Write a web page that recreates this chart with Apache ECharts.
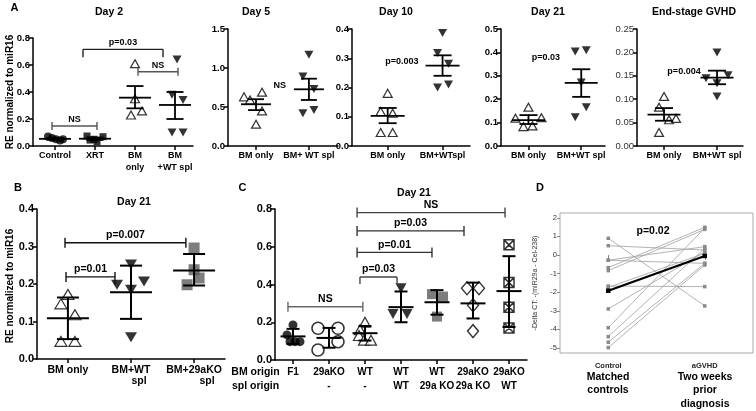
<!DOCTYPE html>
<html><head><meta charset="utf-8">
<script src="https://cdn.jsdelivr.net/npm/echarts@6/dist/echarts.min.js"></script>
<style>html,body{margin:0;padding:0;background:#fff}#c{width:756px;height:411px}</style>
</head><body><div id="c"></div>
<script>
// ================= DATA =================
// Panel A - Day 2
const catsDay2 = ['Control', 'XRT', 'BM\nonly', 'BM\n+WT spl'];
const d2Control = [0.07, 0.06, 0.05, 0.04, 0.05];
const d2XRT = [0.074, 0.05, 0.069, 0.032, 0.044];
const d2BMonly = [0.61, 0.35, 0.23, 0.26];
const d2BMWT = [0.64, 0.38, 0.34, 0.10, 0.10];
const d2Mean = [0.053, 0.054, 0.358, 0.304];
const d2Low = [0.046, 0.045, 0.279, 0.20];
const d2High = [0.060, 0.063, 0.444, 0.40];
// Panel A - Day 5
const catsDay5 = ['BM only', 'BM+ WT spl'];
const d5BMonly = [0.63, 0.59, 0.69, 0.45, 0.28];
const d5BMWT = [1.17, 0.89, 0.73, 0.42, 0.46];
const d5Mean = [0.535, 0.727], d5Low = [0.46, 0.59], d5High = [0.60, 0.863];
// Panel A - Day 10
const catsDay10 = ['BM only', 'BM+WTspl'];
const d10BMonly = [0.18, 0.118, 0.112, 0.046, 0.046];
const d10BMWT = [0.386, 0.318, 0.281, 0.20, 0.21];
const d10Mean = [0.103, 0.275], d10Low = [0.078, 0.24], d10High = [0.13, 0.31];
// Panel A - Day 21
const catsDay21 = ['BM only', 'BM+WT spl'];
const d21BMonly = [0.166, 0.119, 0.083, 0.086, 0.121];
const d21BMWT = [0.404, 0.409, 0.271, 0.166, 0.123];
const d21Mean = [0.111, 0.27], d21Low = [0.094, 0.21], d21High = [0.132, 0.328];
// Panel A - End-stage GVHD
const catsEnd = ['BM only', 'BM+WT spl'];
const endBMonly = [0.106, 0.083, 0.056, 0.059, 0.029];
const endBMWT = [0.20, 0.145, 0.134, 0.151, 0.106];
const endMean = [0.067, 0.146], endLow = [0.054, 0.132], endHigh = [0.081, 0.161];
// Panel B - Day 21
const catsB = ['BM only', 'BM+WT', 'BM+29aKO'];
const catsBsub = 'spl';
const bBMonly = [0.172, 0.147, 0.118, 0.047, 0.047];
const bBMWT = [0.252, 0.198, 0.185, 0.207, 0.058];
const bBM29aKO = [0.296, 0.238, 0.198, 0.216];
const bMean = [0.109, 0.178, 0.236], bLow = [0.053, 0.107, 0.196], bHigh = [0.164, 0.249, 0.28];
// Panel C - Day 21
const catsCbm = ['F1', '29aKO', 'WT', 'WT', 'WT', '29aKO', '29aKO'];
const catsCspl = ['', '-', '-', 'WT', '29a KO', '29a KO', 'WT'];
const cF1 = [0.186, 0.133, 0.097, 0.097, 0.097];
const c29aKO = [0.168, 0.168, 0.097, 0.053];
const cWT = [0.20, 0.16, 0.13, 0.105, 0.105];
const cWTWT = [0.38, 0.244, 0.244];
const cWT29 = [0.349, 0.336, 0.23];
const c2929 = [0.38, 0.38, 0.29, 0.153];
const c29WT = [0.61, 0.41, 0.28, 0.17];
const cMean = [0.125, 0.117, 0.142, 0.28, 0.306, 0.30, 0.365];
const cLow = [0.085, 0.065, 0.103, 0.20, 0.24, 0.22, 0.175];
const cHigh = [0.165, 0.17, 0.18, 0.363, 0.37, 0.41, 0.55];
// Panel D - paired
const catsD = ['Control', 'aGVHD'];
const dControl = [0.90, 0.50, -0.28, -0.28, -0.68, -0.84, -1.67, -1.74, -2.90, -3.91, -4.39, -4.69, -4.98];
const dAGVHD = [-2.74, 0.27, 0.45, -0.45, 1.49, 1.38, -1.70, 0.09, 0.18, 1.45, 0.36, -0.45, -0.54];
const dMean = [-1.92, -0.05];
const dTicks = [-5, -4, -3, -2, -1, 0, 1, 2];

// ================= LAYOUT / STYLE =================
const FF = '"Liberation Sans", Arial, Helvetica, sans-serif';
const jitDay2 = [[-7, -3, 1, 5, 8], [-8, -1, 8, 2, -5], [0, 0, -4, 7], [2, -3, 8, -3, 8]];
const jitDay5 = [[-12, -6, 6, 6, 0], [0, -6, 5, -6, 5]];
const jitDay10 = [[0, -7, 5, -7, 5], [0, -5, 6, -5, 6]];
const jitDay21 = [[0, -13, -5, 4, 13], [-6, 5, 0, 5, -6]];
const jitEnd = [[0, -5, 5, 12, -5], [0, -11, 0, 11, 0]];
const jitB = [[0, -7, 7, -7, 7], [0, -14, 0, 13, 0], [0, 0, -7, 5]];
const jitC = [[0, -6, -3, 2, 7], [-11, 9, 9, -11], [0, -5, -6, -1, 6], [0, -8, 6], [-5, 6, 0], [-6, 6, 0, 0], [0, 0, 0, 0]];

const brDay2 = [
  {x1: -0.075, x2: 1.05, y: 0.148, t: 'NS', c: '#555', up: 4, dn: 4},
  {x1: 0.7, x2: 2.7, y: 0.716, t: 'p=0.03', c: '#222', up: 0, dn: 8},
  {x1: 2.075, x2: 3.075, y: 0.55, t: 'NS', c: '#555', up: 4, dn: 4}
];
const brDay5 = [{x1: 0.45, y: 0.775, t: 'NS'}];
const brDay10 = [{x1: 0.26, y: 0.29, t: 'p=0.003'}];
const brDay21 = [{x1: 0.33, y: 0.38, t: 'p=0.03'}];
const brEnd = [{x1: 0.377, y: 0.159, t: 'p=0.004'}];
const brB = [
  {x1: -0.046, x2: 1.87, y: 0.31, t: 'p=0.007', c: '#111', up: 5, dn: 5},
  {x1: -0.03, x2: 0.746, y: 0.219, t: 'p=0.01', c: '#111', up: 5, dn: 5, dn2: 8}
];
const brC = [
  {x1: -0.14, x2: 1.94, y: 0.282, t: 'NS', c: '#666', up: 5, dn: 5},
  {x1: 1.86, x2: 2.89, y: 0.44, t: 'p=0.03', c: '#444', up: 0, dn: 7},
  {x1: 1.78, x2: 3.86, y: 0.57, t: 'p=0.01', c: '#333', up: 5, dn: 5},
  {x1: 1.78, x2: 4.75, y: 0.684, t: 'p=0.03', c: '#333', up: 5, dn: 5},
  {x1: 1.78, x2: 5.89, y: 0.781, t: 'NS', c: '#444', up: 5, dn: 5}
];

const SYM = {
  fcircle: {symbol: 'circle', itemStyle: {color: '#000'}},
  fsquare: {symbol: 'rect', itemStyle: {color: '#000'}},
  otri: {symbol: 'triangle', itemStyle: {color: '#fff', borderColor: '#000', borderWidth: 1.2}},
  itri: {symbol: 'triangle', symbolRotate: 180, itemStyle: {color: '#000'}},
  gsquare: {symbol: 'rect', itemStyle: {color: '#5c5c5c'}},
  ocircle: {symbol: 'circle', itemStyle: {color: '#fff', borderColor: '#000', borderWidth: 1.6}},
  odiamond: {symbol: 'diamond', itemStyle: {color: '#fff', borderColor: '#000', borderWidth: 1.4}},
  xbox: {symbol: 'path://M0,0L10,0L10,10L0,10Z M0,0L10,10 M10,0L0,10', itemStyle: {color: 'rgba(0,0,0,0)', borderColor: '#000', borderWidth: 1.5}}
};

const panels = [
  {left: 33, top: 38, width: 160, height: 108, xmin: -0.55, xmax: 3.45, ymax: 0.8, yint: 0.2, dec: 1,
   cats: catsDay2, groups: [[d2Control, 'fcircle', 8], [d2XRT, 'fsquare', 7], [d2BMonly, 'otri', [9, 8]], [d2BMWT, 'itri', [9, 8]]],
   jit: jitDay2, mean: d2Mean, lo: d2Low, hi: d2High, mw: 32, cw: 17, lw: 1.8, xf: 9, yf: 9.5, lh: 12, xm: 4, br: brDay2, bf: 9},
  {left: 228, top: 29, width: 110, height: 117, xmin: -0.53, xmax: 1.55, ymax: 1.5, yint: 0.5, dec: 1,
   cats: catsDay5, groups: [[d5BMonly, 'otri', [9, 8]], [d5BMWT, 'itri', [9, 8]]],
   jit: jitDay5, mean: d5Mean, lo: d5Low, hi: d5High, mw: 30, cw: 16, lw: 1.8, xf: 9, yf: 9.5, lh: 12, xm: 4, br: brDay5, bf: 9},
  {left: 352, top: 29, width: 118, height: 117, xmin: -0.65, xmax: 1.5, ymax: 0.4, yint: 0.1, dec: 1,
   cats: catsDay10, groups: [[d10BMonly, 'otri', [9, 8]], [d10BMWT, 'itri', [9, 8]]],
   jit: jitDay10, mean: d10Mean, lo: d10Low, hi: d10High, mw: 34, cw: 18, lw: 1.8, xf: 9, yf: 9.5, lh: 12, xm: 4, br: brDay10, bf: 9},
  {left: 501, top: 29, width: 104, height: 117, xmin: -0.52, xmax: 1.45, ymax: 0.5, yint: 0.1, dec: 1,
   cats: catsDay21, groups: [[d21BMonly, 'otri', [9, 8]], [d21BMWT, 'itri', [9, 8]]],
   jit: jitDay21, mean: d21Mean, lo: d21Low, hi: d21High, mw: 33, cw: 18, lw: 1.8, xf: 9, yf: 9.5, lh: 12, xm: 4, br: brDay21, bf: 9},
  {left: 637, top: 29, width: 106, height: 117, xmin: -0.51, xmax: 1.49, ymax: 0.25, yint: 0.05, dec: 2,
   cats: catsEnd, groups: [[endBMonly, 'otri', [9, 8]], [endBMWT, 'itri', [9, 8]]],
   jit: jitEnd, mean: endMean, lo: endLow, hi: endHigh, mw: 33, cw: 18, lw: 1.8, xf: 9, yf: 9.5, yw: 'normal', lh: 12, xm: 4, br: brEnd, bf: 9},
  {left: 37, top: 209, width: 188, height: 150, xmin: -0.49, xmax: 2.49, ymax: 0.4, yint: 0.1, dec: 1,
   cats: catsB, groups: [[bBMonly, 'otri', [12, 10]], [bBMWT, 'itri', [12, 10]], [bBM29aKO, 'gsquare', 11]],
   jit: jitB, mean: bMean, lo: bLow, hi: bHigh, mw: 42, cw: 22, lw: 2, xf: 10.5, yf: 11, lh: 10.5, xm: 6, br: brB, bf: 10.5},
  {left: 275, top: 209, width: 252, height: 151, xmin: -0.5, xmax: 6.5, ymax: 0.8, yint: 0.2, dec: 1,
   cats: catsCbm.map((c, i) => c + '\n' + catsCspl[i]),
   groups: [[cF1, 'fcircle', 9], [c29aKO, 'ocircle', 12], [cWT, 'otri', [11, 10]], [cWTWT, 'itri', [11, 10]],
            [cWT29, 'gsquare', 10], [c2929, 'odiamond', [11, 13]], [c29WT, 'xbox', 10]],
   jit: jitC, mean: cMean, lo: cLow, hi: cHigh, mw: 25, cw: 13, lw: 2, xf: 10, yf: 11, lh: 14, xm: 5, br: brC, bf: 10.5}
];

const grids = [], xAxes = [], yAxes = [], series = [];

function errRender(p) {
  return function (params, api) {
    const i = api.value(0);
    const pm = api.coord([i, api.value(1)]), pl = api.coord([i, api.value(2)]), ph = api.coord([i, api.value(3)]);
    const x = pm[0], st = {stroke: '#000', lineWidth: p.lw};
    return {type: 'group', children: [
      {type: 'line', shape: {x1: x - p.mw / 2, y1: pm[1], x2: x + p.mw / 2, y2: pm[1]}, style: st},
      {type: 'line', shape: {x1: x, y1: pl[1], x2: x, y2: ph[1]}, style: st},
      {type: 'line', shape: {x1: x - p.cw / 2, y1: pl[1], x2: x + p.cw / 2, y2: pl[1]}, style: st},
      {type: 'line', shape: {x1: x - p.cw / 2, y1: ph[1], x2: x + p.cw / 2, y2: ph[1]}, style: st}
    ]};
  };
}
function brRender(list, fs) {
  return function (params, api) {
    const b = list[params.dataIndex];
    const p1 = api.coord([b.x1, b.y]);
    const font = 'bold ' + fs + 'px ' + FF;
    if (b.x2 === undefined) {
      return {type: 'text', style: {text: b.t, x: p1[0], y: p1[1], font: font, fill: '#000',
        textAlign: 'center', textVerticalAlign: 'middle', align: 'center', verticalAlign: 'middle'}};
    }
    const p2 = api.coord([b.x2, b.y]);
    const st = {stroke: b.c, lineWidth: 1.4};
    const dn2 = b.dn2 !== undefined ? b.dn2 : b.dn;
    return {type: 'group', children: [
      {type: 'line', shape: {x1: p1[0], y1: p1[1], x2: p2[0], y2: p2[1]}, style: st},
      {type: 'line', shape: {x1: p1[0], y1: p1[1] - b.up, x2: p1[0], y2: p1[1] + b.dn}, style: st},
      {type: 'line', shape: {x1: p2[0], y1: p2[1] - b.up, x2: p2[0], y2: p2[1] + dn2}, style: st},
      {type: 'text', style: {text: b.t, x: (p1[0] + p2[0]) / 2, y: p1[1] - 2, font: font, fill: '#000',
        textAlign: 'center', textVerticalAlign: 'bottom', align: 'center', verticalAlign: 'bottom'}}
    ]};
  };
}

panels.forEach(p => {
  const gi = grids.length;
  grids.push({left: p.left, top: p.top, width: p.width, height: p.height, containLabel: false, outerBoundsMode: 'none'});
  const idx = p.cats.map((c, i) => i);
  xAxes.push({type: 'value', gridIndex: gi, min: p.xmin, max: p.xmax, splitLine: {show: false},
    axisLine: {show: true, onZero: false, lineStyle: {color: '#000', width: 1.5}},
    axisTick: {show: true, customValues: idx, length: 4, lineStyle: {color: '#000', width: 1.5}},
    axisLabel: {show: true, customValues: idx, formatter: v => p.cats[Math.round(v)] || '', margin: p.xm,
      fontFamily: FF, fontWeight: 'bold', fontSize: p.xf, color: '#000', lineHeight: p.lh, verticalAlign: 'top'}});
  yAxes.push({type: 'value', gridIndex: gi, min: 0, max: p.ymax, interval: p.yint, splitLine: {show: false},
    axisLine: {show: true, onZero: false, lineStyle: {color: '#000', width: 1.5}},
    axisTick: {show: true, length: 4, lineStyle: {color: '#000', width: 1.5}},
    axisLabel: {formatter: v => v.toFixed(p.dec), margin: 3, fontFamily: FF, fontWeight: p.yw || 'bold',
      fontSize: p.yf, color: p.yw ? '#333' : '#000'}});
  p.groups.forEach((g, k) => {
    const s = SYM[g[1]];
    series.push(Object.assign({type: 'scatter', xAxisIndex: gi, yAxisIndex: gi, symbolSize: g[2], z: 2, clip: false,
      data: g[0].map((v, j) => ({value: [k, v], symbolOffset: [p.jit[k][j], 0]}))}, JSON.parse(JSON.stringify(s))));
  });
  series.push({type: 'custom', xAxisIndex: gi, yAxisIndex: gi, z: 4, clip: false, renderItem: errRender(p),
    encode: {x: 0, y: 1}, data: p.mean.map((m, i) => [i, m, p.lo[i], p.hi[i]])});
  series.push({type: 'custom', xAxisIndex: gi, yAxisIndex: gi, z: 4, clip: false, renderItem: brRender(p.br, p.bf),
    encode: {x: 0, y: 1}, data: p.br.map(b => [b.x1, b.y])});
});

// Panel D
const gD = grids.length;
grids.push({left: 560, top: 213, width: 193, height: 140, show: true, borderColor: '#aaa', borderWidth: 1,
  backgroundColor: 'rgba(0,0,0,0)', containLabel: false, outerBoundsMode: 'none'});
xAxes.push({type: 'value', gridIndex: gD, min: 0.5, max: 2.5, splitLine: {show: false},
  axisLine: {show: false}, axisTick: {show: true, customValues: [1, 2], length: 5, lineStyle: {color: '#888'}},
  axisLabel: {customValues: [1, 2], formatter: v => catsD[Math.round(v) - 1] || '', margin: 9,
    fontFamily: FF, fontWeight: 'bold', fontSize: 7.5, color: '#222'}});
yAxes.push({type: 'value', gridIndex: gD, min: -5.27, max: 2.26, splitLine: {show: false},
  axisLine: {show: false}, axisTick: {show: true, customValues: dTicks, length: 3, lineStyle: {color: '#888'}},
  axisLabel: {customValues: dTicks, formatter: v => String(v), margin: 3, fontFamily: FF, fontSize: 7.5, color: '#333'}});
dControl.forEach((c, i) => {
  series.push({type: 'line', xAxisIndex: gD, yAxisIndex: gD, data: [[1, c], [2, dAGVHD[i]]], symbol: 'rect', symbolSize: 3.5,
    itemStyle: {color: '#8a8a8a'}, lineStyle: {color: '#a0a0a0', width: 0.8}, z: 2});
});
series.push({type: 'line', xAxisIndex: gD, yAxisIndex: gD, data: [[1, dMean[0]], [2, dMean[1]]], symbol: 'rect', symbolSize: 4.5,
  itemStyle: {color: '#000'}, lineStyle: {color: '#000', width: 2.2}, z: 3});

// Static text
function T(x, y, text, size, opt) {
  opt = opt || {};
  return {type: 'text', x: x, y: y, rotation: opt.rot || 0, z: 10,
    style: {text: text, fill: opt.color || '#000', font: (opt.weight || 'bold') + ' ' + size + 'px ' + FF,
      textAlign: 'center', textVerticalAlign: 'middle', align: 'center', verticalAlign: 'middle', lineHeight: opt.lh || size + 2}};
}
const graphics = [
  T(14.5, 8, 'A', 11), T(18, 188, 'B', 11), T(242.5, 188, 'C', 11), T(540, 188, 'D', 11),
  T(109, 12.5, 'Day 2', 10.5), T(256, 12.5, 'Day 5', 10.5), T(396, 12.5, 'Day 10', 10.5),
  T(548, 12.5, 'Day 21', 10.5), T(694, 12.5, 'End-stage GVHD', 10.5),
  T(134, 202, 'Day 21', 10.5), T(414, 193, 'Day 21', 10.5),
  T(10, 92, 'RE normalized to miR16', 10, {rot: Math.PI / 2}),
  T(10, 286, 'RE normalized to miR16', 10, {rot: Math.PI / 2}),
  T(139, 381, catsBsub, 10.5), T(207, 381, catsBsub, 10.5),
  T(255.5, 372, 'BM origin', 10.5), T(255.5, 386, 'spl origin', 10.5),
  T(535, 283, '-Delta CT: -(miR29a - Cel-238)', 7, {rot: Math.PI / 2, weight: 'normal', color: '#333'}),
  T(653, 231, 'p=0.02', 10.5),
  T(608, 383.5, 'Matched\ncontrols', 10.5, {lh: 13.5}),
  T(705, 390.5, 'Two weeks\nprior\ndiagnosis', 10.5, {lh: 13.5})
];

const chart = echarts.init(document.getElementById('c'), null, {renderer: 'canvas'});
chart.setOption({
  animation: false,
  backgroundColor: '#fff',
  grid: grids, xAxis: xAxes, yAxis: yAxes, series: series,
  graphic: {elements: graphics}
});
</script>
</body></html>
